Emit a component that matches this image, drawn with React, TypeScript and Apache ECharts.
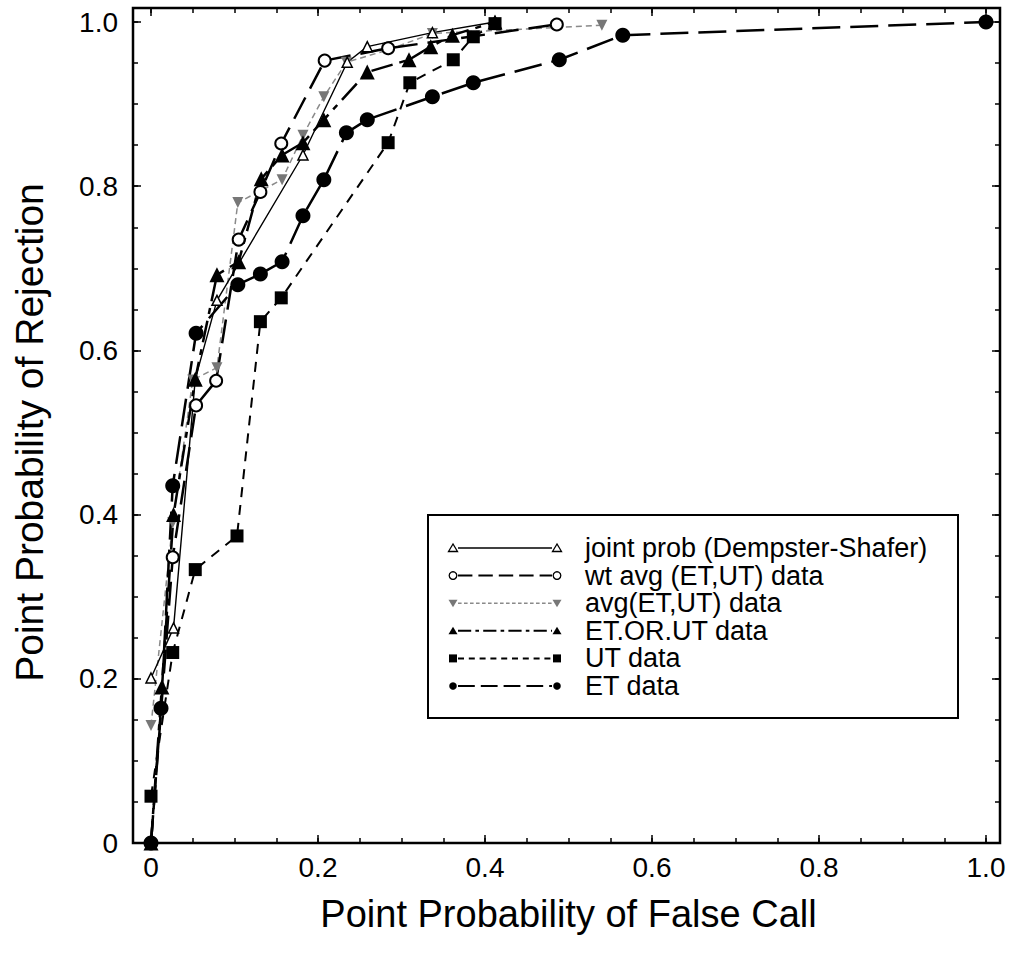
import React, { useEffect, useRef } from 'react';
import * as echarts from 'echarts';

// ---- data ----
const jointX = [0, 0.027, 0.053, 0.079, 0.182, 0.235, 0.259, 0.337, 0.412];
const jointY = [0.201, 0.262, 0.565, 0.661, 0.838, 0.951, 0.970, 0.987, 1.0];

const wtAvgX = [0, 0.026, 0.054, 0.078, 0.105, 0.131, 0.156, 0.208, 0.284, 0.486];
const wtAvgY = [0, 0.348, 0.533, 0.563, 0.735, 0.793, 0.852, 0.953, 0.968, 0.997];

const avgX = [0, 0.026, 0.05, 0.079, 0.104, 0.157, 0.182, 0.207, 0.234, 0.284, 0.337, 0.54];
const avgY = [0.143, 0.39, 0.564, 0.579, 0.78, 0.808, 0.862, 0.909, 0.951, 0.966, 0.986, 0.996];

const orX = [0, 0.013, 0.027, 0.053, 0.079, 0.105, 0.132, 0.157, 0.182, 0.207, 0.259, 0.309, 0.335, 0.361, 0.412];
const orY = [0, 0.19, 0.4, 0.565, 0.692, 0.708, 0.809, 0.838, 0.853, 0.881, 0.939, 0.954, 0.97, 0.984, 1.0];

const utX = [0, 0.026, 0.053, 0.103, 0.131, 0.156, 0.284, 0.31, 0.362, 0.386, 0.412];
const utY = [0.057, 0.232, 0.333, 0.374, 0.635, 0.664, 0.853, 0.926, 0.954, 0.982, 0.998];

const etX = [0, 0.012, 0.026, 0.054, 0.104, 0.131, 0.157, 0.182, 0.207, 0.234, 0.259, 0.337, 0.386, 0.489, 0.565, 1.0];
const etY = [0, 0.164, 0.435, 0.621, 0.68, 0.693, 0.708, 0.764, 0.808, 0.865, 0.881, 0.909, 0.926, 0.954, 0.984, 1.0];

const seriesNames = [
  'joint prob (Dempster-Shafer)',
  'wt avg (ET,UT) data',
  'avg(ET,UT) data',
  'ET.OR.UT data',
  'UT data',
  'ET data',
];
const tickLabels = ['0', '0.2', '0.4', '0.6', '0.8', '1.0'];
const xTitle = 'Point Probability of False Call';
const yTitle = 'Point Probability of Rejection';

const FONT = '"Liberation Sans", Arial, Helvetica, sans-serif';

const zip = (xs: number[], ys: number[]) => xs.map((x, i) => [x, ys[i]]);
const fmt = (v: number) => {
  const i = Math.round(v / 0.2);
  return Math.abs(v - i * 0.2) < 1e-6 ? tickLabels[i] : '';
};

type Sty = {
  symbol: string; size: number; rotate?: number; fill: string; stroke: string; sw: number;
  lineColor: string; lineWidth: number; dash: any;
};
const styles: Sty[] = [
  { symbol: 'triangle', size: 10, fill: '#fff', stroke: '#000', sw: 1.5, lineColor: '#000', lineWidth: 1.4, dash: 'solid' },
  { symbol: 'circle', size: 12, fill: '#fff', stroke: '#000', sw: 2, lineColor: '#000', lineWidth: 2.5, dash: [24, 10] },
  { symbol: 'triangle', rotate: 180, size: 11, fill: '#777', stroke: '#777', sw: 0, lineColor: '#8a8a8a', lineWidth: 1.5, dash: [6, 4] },
  { symbol: 'triangle', size: 15, fill: '#000', stroke: '#000', sw: 0, lineColor: '#000', lineWidth: 2.5, dash: [22, 7, 6, 7] },
  { symbol: 'rect', size: 13, fill: '#000', stroke: '#000', sw: 0, lineColor: '#000', lineWidth: 2, dash: [10, 8] },
  { symbol: 'circle', size: 15, fill: '#000', stroke: '#000', sw: 0, lineColor: '#000', lineWidth: 2.5, dash: [28, 10] },
];
const seriesData = [zip(jointX, jointY), zip(wtAvgX, wtAvgY), zip(avgX, avgY), zip(orX, orY), zip(utX, utY), zip(etX, etY)];
const drawOrder = [2, 0, 1, 4, 3, 5];

function legendMarker(st: Sty, x: number, y: number) {
  const s = 4.5;
  const style = { fill: st.fill, stroke: st.sw ? st.stroke : st.fill, lineWidth: st.sw ? 1.3 : 0 };
  if (st.symbol === 'circle') return { type: 'circle', shape: { cx: x, cy: y, r: 3.8 }, style };
  if (st.symbol === 'rect') return { type: 'rect', shape: { x: x - 4, y: y - 4, width: 8, height: 8 }, style };
  if (st.rotate) return { type: 'polygon', shape: { points: [[x - s, y - 3.5], [x + s, y - 3.5], [x, y + 4]] }, style };
  return { type: 'polygon', shape: { points: [[x, y - 4], [x - s, y + 3.5], [x + s, y + 3.5]] }, style };
}

export default function App() {
  const ref = useRef<HTMLDivElement>(null);
  useEffect(() => {
    if (!ref.current) return;
    const chart = echarts.init(ref.current, null, { renderer: 'svg' });

    const tickAxis = (interval: number, len: number) => ({
      type: 'value', min: 0, max: 1, interval,
      axisLine: { show: false, onZero: false }, splitLine: { show: false },
      axisTick: { show: true, inside: true, length: len, lineStyle: { color: '#000', width: 1.5 } },
      minorTick: { show: false },
    });
    const minorAx = (position: string, offset: number) => ({
      ...tickAxis(0.05, 5), position, offset, axisLabel: { show: false },
    });

    const legendEls: any[] = [
      { type: 'rect', shape: { x: 428, y: 515, width: 530, height: 203 }, style: { fill: '#fff', stroke: '#000', lineWidth: 2 }, z: 50 },
    ];
    seriesNames.forEach((name, i) => {
      const st = styles[i];
      const y = 548 + i * 27.6;
      legendEls.push({
        type: 'line', shape: { x1: 458, y1: y, x2: 552, y2: y }, z: 51,
        style: { stroke: st.lineColor, lineWidth: Math.min(st.lineWidth, 2), lineDash: st.dash === 'solid' ? null : st.dash.map((d: number) => d * 0.6) },
      });
      legendEls.push({ ...legendMarker(st, 453, y), z: 52 });
      legendEls.push({ ...legendMarker(st, 557, y), z: 52 });
      legendEls.push({
        type: 'text', x: 585, y, z: 52,
        style: { text: name, fontSize: 27, lineHeight: 27, fontFamily: FONT, fill: '#000', verticalAlign: 'middle' },
      });
    });

    chart.setOption({
      animation: false,
      backgroundColor: '#fff',
      grid: { left: 151, right: 24, top: 22, bottom: 115, containLabel: false },
      xAxis: [
        {
          ...tickAxis(0.2, 8), position: 'bottom', offset: 0,
          axisLabel: { formatter: fmt, fontSize: 28, fontFamily: FONT, color: '#000', margin: 10 },
          name: xTitle, nameLocation: 'middle', nameGap: 52,
          nameTextStyle: { fontSize: 38, fontFamily: FONT, color: '#000' },
        },
        { ...tickAxis(0.2, 8), position: 'top', offset: 14, axisLabel: { show: false } },
        minorAx('bottom', 0),
        minorAx('top', 14),
      ],
      yAxis: [
        {
          ...tickAxis(0.2, 8), position: 'left', offset: 18,
          axisLabel: { formatter: fmt, fontSize: 28, fontFamily: FONT, color: '#000', margin: 15 },
          name: yTitle, nameLocation: 'middle', nameGap: 84, nameRotate: 90,
          nameTextStyle: { fontSize: 39, fontFamily: FONT, color: '#000' },
        },
        { ...tickAxis(0.2, 8), position: 'right', offset: 14, axisLabel: { show: false } },
        minorAx('left', 18),
        minorAx('right', 14),
      ],
      graphic: [
        { type: 'rect', shape: { x: 133, y: 8, width: 867, height: 835 }, style: { fill: 'none', stroke: '#000', lineWidth: 2.5 }, z: 40 },
        ...legendEls,
      ],
      series: drawOrder.map((i) => {
        const st = styles[i];
        return {
          name: seriesNames[i],
          type: 'line',
          data: seriesData[i],
          symbol: st.symbol,
          symbolSize: st.size,
          symbolRotate: st.rotate || 0,
          showAllSymbol: true,
          itemStyle: { color: st.fill, borderColor: st.stroke, borderWidth: st.sw },
          lineStyle: { color: st.lineColor, width: st.lineWidth, type: st.dash },
          z: 3,
        };
      }),
    });
    return () => chart.dispose();
  }, []);
  return <div ref={ref} style={{ position: 'absolute', left: 0, top: 0, width: 1010, height: 958 }} />;
}
